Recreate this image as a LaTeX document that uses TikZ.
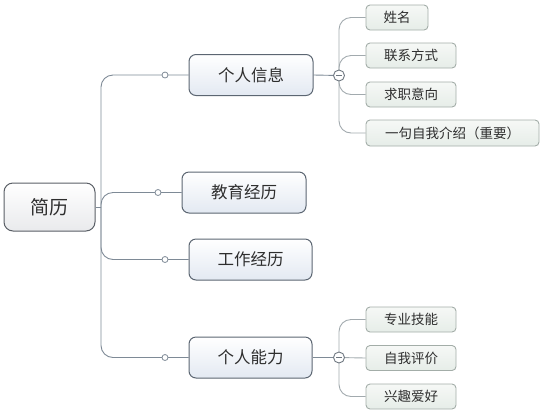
\documentclass[tikz,border=0pt]{standalone}
\usepackage{fontspec}
\setmainfont{Noto Sans CJK SC}
\usetikzlibrary{backgrounds}
\definecolor{linec}{HTML}{7E8A96}
\definecolor{sublinec}{HTML}{A2AAAE}
\definecolor{togc}{HTML}{6E7780}
\definecolor{rootb}{HTML}{5A5F66}
\definecolor{rootf}{HTML}{E9EAEC}
\definecolor{mainb}{HTML}{5C6672}
\definecolor{mainf}{HTML}{E3E9F2}
\definecolor{leafb}{HTML}{A3ADA8}
\definecolor{leaft}{HTML}{F6F8F6}
\definecolor{leaff}{HTML}{E6EDE8}
\definecolor{txt}{HTML}{2E2E2E}
\begin{document}
\begin{tikzpicture}[x=1pt,y=-1pt,
 conn/.style={draw=linec, line width=0.9pt, rounded corners=12pt},
 subconn/.style={draw=sublinec, line width=0.9pt, rounded corners=12pt},
 rootbox/.style={draw=rootb, line width=1pt, rounded corners=9pt, top color=white, bottom color=rootf, minimum width=91pt, minimum height=48pt, font=\fontsize{19}{20}\selectfont, text=txt, inner sep=0pt},
 mainbox/.style={draw=mainb, line width=1pt, rounded corners=7pt, top color=white, bottom color=mainf, minimum width=124pt, minimum height=41pt, font=\fontsize{16.5}{18}\selectfont, text=txt, inner sep=0pt},
 leafbox/.style={draw=leafb, line width=0.9pt, rounded corners=4pt, top color=leaft, bottom color=leaff, minimum height=25pt, font=\fontsize{13.5}{15}\selectfont, text=txt, inner sep=0pt},
 knob/.style={circle, draw=linec, fill=white, line width=0.8pt, minimum size=6pt, inner sep=0pt},
 tog/.style={circle, draw=togc, fill=white, line width=0.9pt, minimum size=11pt, inner sep=0pt}]
\useasboundingbox (0,0) rectangle (548,416);
% root
\node[rootbox] (root) at (49.5,207) {简历};
\coordinate (hub) at (101,207);
% main nodes
\node[mainbox] (p1) at (251,75) {个人信息};
\node[mainbox] (p2) at (244,192.5) {教育经历};
\node[mainbox, minimum width=123pt] (p3) at (250.5,259.5) {工作经历};
\node[mainbox, minimum width=123pt] (p4) at (250.5,357.5) {个人能力};
% knobs
\node[knob] (k1) at (165,75) {};
\node[knob] (k2) at (158,192.5) {};
\node[knob] (k3) at (165,259.5) {};
\node[knob] (k4) at (165,357.5) {};
% toggles
\node[tog] (m1) at (339,75.5) {};
\node[tog] (m2) at (339,357.5) {};
\draw[togc, line width=0.9pt] ([xshift=-3pt]m1.center) -- ([xshift=3pt]m1.center);
\draw[togc, line width=0.9pt] ([xshift=-3pt]m2.center) -- ([xshift=3pt]m2.center);
% leaves top
\node[leafbox, minimum width=62pt] (l1) at (397,17.5) {姓名};
\node[leafbox, minimum width=90pt] (l2) at (411,55.5) {联系方式};
\node[leafbox, minimum width=90pt] (l3) at (411,94.5) {求职意向};
\node[leafbox, minimum width=173pt, minimum height=26pt] (l4) at (452.5,133) {一句自我介绍（重要）};
% leaves bottom
\node[leafbox, minimum width=90pt] (b1) at (411,319.5) {专业技能};
\node[leafbox, minimum width=90pt] (b2) at (411,358) {自我评价};
\node[leafbox, minimum width=90pt] (b3) at (411,396.5) {兴趣爱好};
% connectors
\begin{scope}[on background layer]
\draw[conn] (root.east) -- (hub);
\draw[conn] (hub) |- (p1.west);
\draw[conn] (hub) |- (p2.west);
\draw[conn] (hub) |- (p3.west);
\draw[conn] (hub) |- (p4.west);
\draw[conn] (p1.east) -- (m1.center);
\draw[conn] (p4.east) -- (m2.center);
\draw[subconn] (m1.center) |- (l1.west);
\draw[subconn] (m1.center) |- (l2.west);
\draw[subconn] (m1.center) |- (l3.west);
\draw[subconn] (m1.center) |- (l4.west);
\draw[subconn] (m2.center) |- (b1.west);
\draw[subconn] (m2.center) -- (b2.west);
\draw[subconn] (m2.center) |- (b3.west);
\end{scope}
\end{tikzpicture}
\end{document}
